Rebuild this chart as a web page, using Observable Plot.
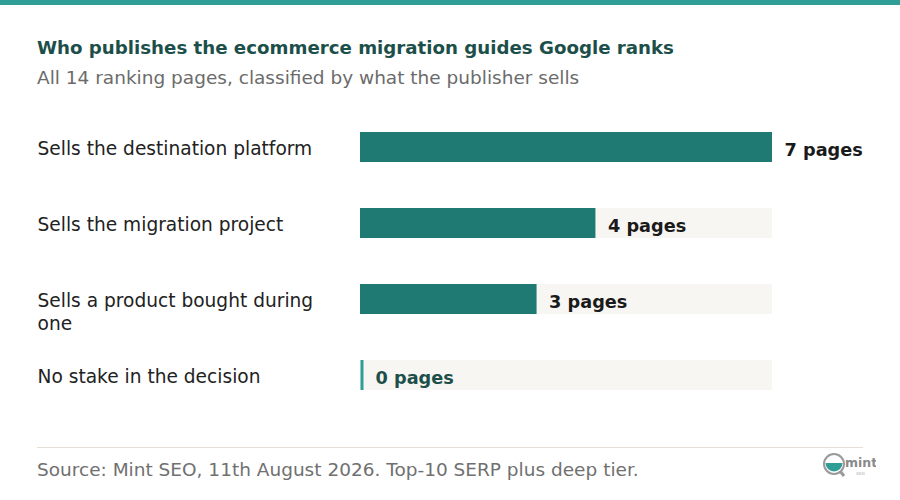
<!DOCTYPE html>
<html>
<head>
<meta charset="utf-8">
<script src="https://cdn.jsdelivr.net/npm/d3@7"></script>
<script src="https://cdn.jsdelivr.net/npm/@observablehq/plot@0.6"></script>
<style>
  html, body { margin: 0; padding: 0; background: #ffffff; }
  #wrap { position: relative; width: 900px; height: 500px; overflow: hidden; font-family: "DejaVu Sans", sans-serif; }
  #topbar { position: absolute; left: 0; top: 0; width: 900px; height: 5px; background: #2e9e96; }
  #title { position: absolute; left: 37px; top: 37px; font-size: 18.2px; font-weight: bold; color: #1d4f4a; white-space: nowrap; }
  #subtitle { position: absolute; left: 37px; top: 67px; font-size: 18.5px; color: #6b6b6b; white-space: nowrap; }
  #chart { position: absolute; left: 0; top: 109px; }
  #divider { position: absolute; left: 37px; top: 447px; width: 826px; height: 1px; background: #e6dfd6; }
  #source { position: absolute; left: 37px; top: 459px; font-size: 18.5px; color: #707070; white-space: nowrap; }
  #logo { position: absolute; left: 820px; top: 450px; }
</style>
</head>
<body>
<div id="wrap">
  <div id="topbar"></div>
  <div id="title">Who publishes the ecommerce migration guides Google ranks</div>
  <div id="subtitle">All 14 ranking pages, classified by what the publisher sells</div>
  <div id="chart"></div>
  <div id="divider"></div>
  <div id="source">Source: Mint SEO, 11th August 2026. Top-10 SERP plus deep tier.</div>
  <div id="logo">
    <svg width="56" height="30" viewBox="0 0 56 30">
      <circle cx="14" cy="14" r="10" fill="#ffffff" stroke="#9a9a9a" stroke-width="2"/>
      <path d="M5.5 13 L22.5 13 A8.5 8.5 0 0 1 5.5 13 Z" fill="#2e9e96"/>
      <line x1="20" y1="21" x2="24" y2="26" stroke="#9a9a9a" stroke-width="3"/>
      <text x="25" y="17" font-family="DejaVu Sans" font-weight="bold" font-size="12.5" fill="#8a8a8a">mint</text>
      <text x="36" y="25" font-family="DejaVu Sans" font-size="5" fill="#aaaaaa">seo</text>
    </svg>
  </div>
</div>
<script>
const categories = [
  "Sells the destination platform",
  "Sells the migration project",
  "Sells a product bought during\none",
  "No stake in the decision"
];
const pages = [7, 4, 3, 0];
const valueLabels = ["7 pages", "4 pages", "3 pages", "0 pages"];
const maxPages = 7;

const data = categories.map((c, i) => ({ label: c, pages: pages[i], text: valueLabels[i] }));

const chart = Plot.plot({
  width: 900,
  height: 304,
  marginLeft: 360,
  marginRight: 128,
  marginTop: 0,
  marginBottom: 0,
  x: { domain: [0, maxPages], axis: null },
  y: { domain: categories, axis: null, paddingInner: 0.605, paddingOuter: 0.3025 },
  style: { fontFamily: "DejaVu Sans, sans-serif", background: "transparent" },
  marks: [
    Plot.barX(data, { y: "label", x1: 0, x2: maxPages, fill: "#f7f6f2" }),
    Plot.barX(data.filter(d => d.pages > 0), { y: "label", x1: 0, x2: "pages", fill: "#1f7a73" }),
    Plot.tickX(data.filter(d => d.pages === 0), { x: 0, y: "label", stroke: "#2e9e96", strokeWidth: 3, dx: 1.5 }),
    Plot.text(data, {
      y: "label", text: "label", frameAnchor: "left", dx: -323, textAnchor: "start",
      lineAnchor: "top", dy: -8, lineHeight: 1.2, fontSize: 18.6, fill: "#222222"
    }),
    Plot.text(data.filter(d => d.pages > 0), {
      y: "label", x: "pages", text: "text", dx: 12, dy: 3, textAnchor: "start",
      fontSize: 17.7, fontWeight: "bold", fill: "#1a1a1a"
    }),
    Plot.text(data.filter(d => d.pages === 0), {
      y: "label", x: "pages", text: "text", dx: 15, dy: 3, textAnchor: "start",
      fontSize: 17.7, fontWeight: "bold", fill: "#1d4f4a"
    })
  ]
});
document.getElementById("chart").appendChild(chart);
</script>
</body>
</html>
